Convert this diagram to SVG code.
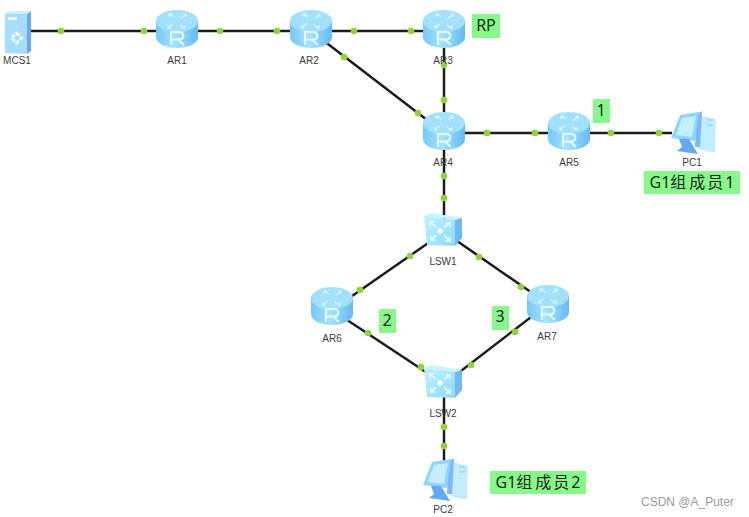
<svg xmlns="http://www.w3.org/2000/svg" width="749" height="517" viewBox="0 0 749 517">
<style>
.l{stroke:#1c1c1c;stroke-width:2.5;fill:none}
.d{fill:#8ed636}
.t{font:10px "Liberation Sans",Arial,sans-serif;fill:#3c3c3c;text-anchor:middle}
.g{fill:#86f98a}
.n{font:16px "Noto Sans","Noto Sans CJK SC",sans-serif;fill:#1a2a1a;text-anchor:middle}
.w{stroke:#eafaff;stroke-width:1.6;fill:none}
.a{stroke:#e4f8ff;stroke-width:1.1;fill:none}
</style>
<defs>
<linearGradient id="rb" x1="0" x2="1" y1="0" y2="0"><stop offset="0" stop-color="#74c8fa"/><stop offset=".45" stop-color="#a6e3ff"/><stop offset="1" stop-color="#62b9f5"/></linearGradient>
<linearGradient id="st" x1="0" x2="1" y1="0" y2="1"><stop offset="0" stop-color="#bdf1ff"/><stop offset="1" stop-color="#8fdcfd"/></linearGradient>
<symbol id="router" overflow="visible" viewBox="-21 -19 42 38" width="42" height="38">
<path d="M-21-8V8C-21 15-10 19 0 19S21 15 21 8V-8Z" fill="url(#rb)"/>
<ellipse cx="0" cy="-8" rx="21" ry="11" fill="#a2e1fd"/>
<path class="a" d="M-3-12L-8-15M-8-12V-15H-5M3-4L8-1M8-4V-1H5M-4-5L-9-2M-6-1H-9V-4M4-11L9-14M6-15H9V-12"/>
<path d="M-6 16V3H1.500C8 3 8 10.500 1.500 10.500H-6M1 10.500L7 16" fill="none" stroke="#e6f9ff" stroke-width="2"/>
</symbol>
<symbol id="sw" overflow="visible" viewBox="0 0 39 37" width="39" height="37">
<path d="M0 3L8 0L38 5L31 7Z" fill="#c9f3ff"/>
<path d="M31 7L38 5V25L31 33Z" fill="#6fb6fb"/>
<path d="M0 3L31 7V33L3 32Z" fill="url(#st)"/>
<circle cx="16" cy="18" r="2.6" fill="#fff"/>
<path class="w" d="M6 9L12 14M6 13V9H10M26 10L20 14M26 14V10H22M7 27L12 22M7 23V27H11M26 28L20 22M26 24V28H22"/>
</symbol>
<symbol id="pc" overflow="visible" viewBox="0 0 44 44" width="44" height="44">
<path d="M29 4L45 8L44 42L27 38Z" fill="#c4ecff"/>
<path d="M25 4L31 0L29 36L24 36Z" fill="#79b8fb"/>
<path d="M9 4L28 1L24 30L0 27Z" fill="#8fd4ff"/>
<path d="M11 7L25 5L21 26L5 24Z" fill="#c5eeff"/>
<path d="M8 28H18L27 43L6 40L11 36Z" fill="#62aaf6"/>
<path d="M36 9H42M36 14H42" stroke="#8fc9ef" stroke-width="1"/>
</symbol>
</defs>
<rect width="749" height="517" fill="#fff"/>
<g id="connectors">
<path class="l" d="M30 31H177M177 31H311M311 31H444M311 31L444 133M444 31V133M444 133H569M569 133H672M444 133V232M444 232L332 310M444 232L548 304M332 310L444 384M548 304L444 384M444 384V480"/>
<g class="d">
<circle cx="61" cy="31" r="3.300"/><circle cx="144" cy="31" r="3.300"/><circle cx="220" cy="31" r="3.300"/><circle cx="277" cy="31" r="3.300"/><circle cx="354" cy="31" r="3.300"/><circle cx="411" cy="31" r="3.300"/>
<circle cx="344" cy="57" r="3.300"/><circle cx="418" cy="113" r="3.300"/><circle cx="444" cy="65" r="3.300"/><circle cx="444" cy="100" r="3.300"/>
<circle cx="487" cy="133" r="3.300"/><circle cx="535" cy="133" r="3.300"/><circle cx="611" cy="133" r="3.300"/><circle cx="659" cy="133" r="3.300"/>
<circle cx="444" cy="176" r="3.300"/><circle cx="444" cy="198" r="3.300"/>
<circle cx="410" cy="256" r="3.300"/><circle cx="360" cy="290" r="3.300"/><circle cx="479" cy="257" r="3.300"/><circle cx="521" cy="287" r="3.300"/>
<circle cx="368" cy="333" r="3.300"/><circle cx="421" cy="367" r="3.300"/><circle cx="515" cy="332" r="3.300"/><circle cx="471" cy="365" r="3.300"/>
<circle cx="444" cy="427" r="3.300"/><circle cx="444" cy="446" r="3.300"/>
</g>
</g>
<g id="MCS1">
<path d="M5 14L27 14V54L5 53Z" fill="#a5defc"/><path d="M27 14L31 11V51L27 54Z" fill="#6ba7f8"/><path d="M5 14L9 11H31L27 14Z" fill="#c6efff"/>
<rect x="8" y="17" width="9" height="3" fill="#eafaff"/><path d="M16.500 33L21.500 38L16.500 43L11.500 38Z" fill="none" stroke="#f2fcff" stroke-width="3" stroke-dasharray="4 1.500"/>
<text class="t" x="17" y="64">MCS1</text></g>
<g id="AR1"><use href="#router" x="156" y="10"/><text class="t" x="177" y="64">AR1</text></g>
<g id="AR2"><use href="#router" x="290" y="10"/><text class="t" x="309" y="64">AR2</text></g>
<g id="AR3"><use href="#router" x="423" y="10"/><text class="t" x="443" y="64">AR3</text></g>
<g id="AR4"><use href="#router" x="423" y="112"/><text class="t" x="443" y="166">AR4</text></g>
<g id="AR5"><use href="#router" x="548" y="112"/><text class="t" x="569" y="166">AR5</text></g>
<g id="AR6"><use href="#router" x="311" y="287"/><text class="t" x="332" y="342">AR6</text></g>
<g id="AR7"><use href="#router" x="527" y="285"/><text class="t" x="547" y="340">AR7</text></g>
<g id="LSW1"><use href="#sw" x="424" y="213"/><text class="t" x="443" y="265">LSW1</text></g>
<g id="LSW2"><use href="#sw" x="424" y="365"/><text class="t" x="443" y="417">LSW2</text></g>
<g id="PC1"><use href="#pc" x="671" y="111"/><text class="t" x="692" y="166">PC1</text></g>
<g id="PC2"><use href="#pc" x="423" y="458"/><text class="t" x="443" y="513">PC2</text></g>
<g id="notes">
<rect class="g" x="472" y="14" width="28" height="24"/><text class="n" x="486" y="31">RP</text>
<rect class="g" x="593" y="99" width="17" height="24"/><text class="n" x="601" y="116">1</text>
<rect class="g" x="644" y="171" width="96" height="23"/><text class="n" x="692" y="188">G1组<tspan dx="3">成</tspan><tspan dx="2">员</tspan><tspan dx="2">1</tspan></text>
<rect class="g" x="379" y="309" width="17" height="24"/><text class="n" x="387" y="326">2</text>
<rect class="g" x="492" y="306" width="17" height="24"/><text class="n" x="500" y="322">3</text>
<rect class="g" x="490" y="471" width="96" height="23"/><text class="n" x="538" y="488">G1组<tspan dx="3">成</tspan><tspan dx="2">员</tspan><tspan dx="2">2</tspan></text>
</g>
<text x="641" y="506" font-family="Liberation Sans,Arial,sans-serif" font-size="12" fill="#9a9a9a">CSDN @A_Puter</text>
</svg>
